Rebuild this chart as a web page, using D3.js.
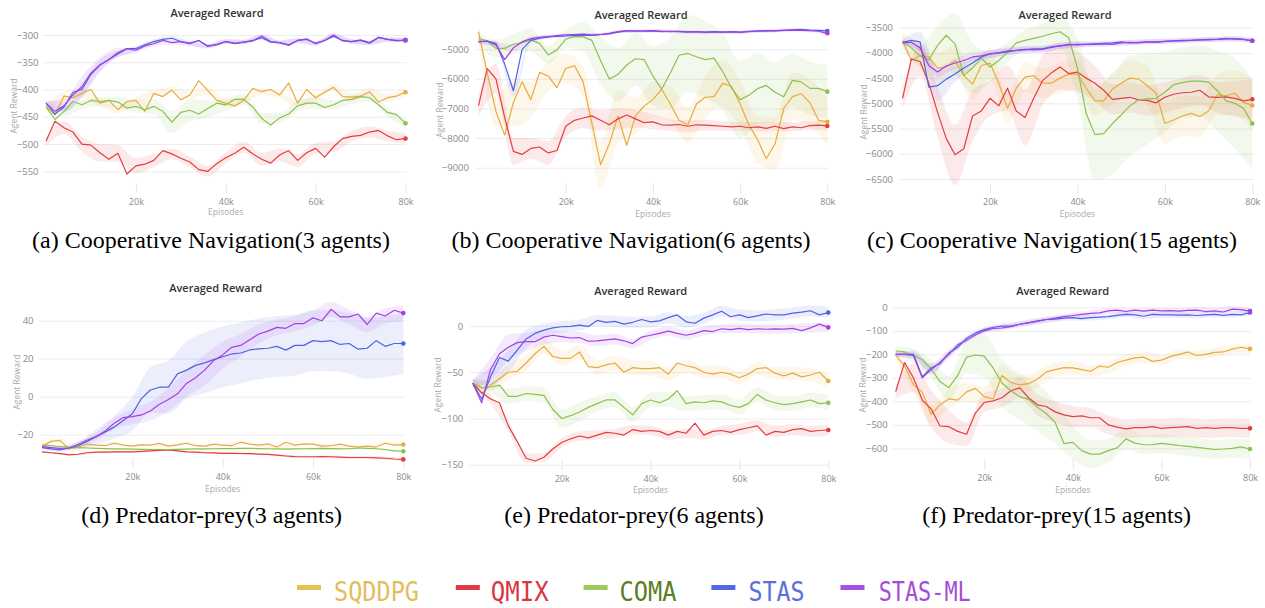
<!DOCTYPE html>
<html>
<head>
<meta charset="utf-8">
<script src="https://cdn.jsdelivr.net/npm/d3@7"></script>
<style>
body { margin: 0; background: #fff; }
</style>
</head>
<body>
<svg id="chart" width="1265" height="608"></svg>
<script>
// episodes sampled every 2k
var episodes = [0,2000,4000,6000,8000,10000,12000,14000,16000,18000,20000,22000,24000,26000,28000,30000,32000,34000,36000,38000,40000,
                42000,44000,46000,48000,50000,52000,54000,56000,58000,60000,62000,64000,66000,68000,70000,72000,74000,76000,78000,80000];
var xTickValues = [20000, 40000, 60000, 80000];
var seriesNames = ["SQDDPG", "QMIX", "COMA", "STAS", "STAS-ML"];

// (a) Cooperative Navigation, 3 agents
var a_sqddpg = [-431,-447,-412,-415,-407,-400,-425,-420,-437,-422,-420,-440,-407,-413,-401,-419,-410,-384,-402,-420,-425,-430,-420,-398,-404,-400,-410,-388,-425,-400,-415,-405,-396,-413,-414,-412,-404,-423,-415,-412,-405];
var a_qmix = [-495,-458,-470,-478,-500,-502,-516,-528,-517,-555,-540,-537,-530,-512,-518,-526,-533,-547,-550,-536,-525,-517,-506,-518,-528,-535,-520,-512,-530,-516,-508,-524,-505,-490,-486,-484,-478,-475,-485,-492,-490];
var a_coma = [-432,-455,-440,-422,-428,-420,-422,-420,-423,-434,-431,-437,-431,-440,-460,-442,-438,-445,-435,-425,-428,-418,-418,-432,-453,-465,-452,-445,-430,-425,-425,-433,-428,-420,-418,-413,-415,-428,-442,-446,-462];
var a_stas = [-425,-445,-432,-405,-400,-372,-355,-345,-335,-325,-325,-318,-312,-308,-306,-312,-315,-310,-320,-318,-312,-315,-313,-310,-305,-313,-314,-318,-310,-308,-315,-310,-302,-310,-312,-310,-315,-305,-308,-310,-310];
var a_stasml = [-425,-440,-430,-410,-395,-370,-355,-345,-332,-325,-328,-320,-316,-310,-314,-312,-316,-310,-321,-317,-312,-316,-313,-311,-302,-312,-314,-319,-310,-307,-316,-310,-300,-311,-312,-309,-314,-304,-308,-311,-309];
var a_sqddpg_sd = [5,8,8,7,6,6,6,6,7,7,7,6,6,6,6,6,6,7,7,7,8];
var a_qmix_sd = [8,12,14,16,15,14,12,10,10,10,10,10,12,12,12,10,10,10,10,10,10];
var a_coma_sd = [6,8,8,8,10,12,14,20,20,16,12,10,10,10,10,10,8,8,8,8,8];
var a_stas_sd = [4,8,12,10,6,5,4,4,4,4,4,4,4,4,4,4,4,4,4,4,4];
var a_stasml_sd = [4,12,20,14,8,5,4,4,4,4,4,4,4,4,4,4,4,4,4,4,4];

// (b) Cooperative Navigation, 6 agents
var b_sqddpg = [-4400,-5800,-7100,-7900,-6800,-6100,-6700,-5780,-5900,-6300,-5650,-5550,-6100,-7500,-8900,-8200,-7250,-8250,-7250,-6920,-6700,-6350,-6850,-7400,-7550,-6850,-6620,-6600,-6150,-6250,-6850,-7550,-8050,-8700,-8200,-7000,-6600,-6500,-6800,-7400,-7450];
var b_qmix = [-6900,-5650,-6000,-7300,-8450,-8550,-8350,-8300,-8500,-8420,-7600,-7400,-7320,-7250,-7400,-7550,-7350,-7220,-7350,-7480,-7450,-7550,-7560,-7540,-7600,-7550,-7560,-7580,-7600,-7620,-7600,-7650,-7620,-7670,-7600,-7680,-7620,-7650,-7580,-7560,-7590];
var b_coma = [-4630,-4710,-4970,-4970,-4830,-4775,-4680,-4800,-5190,-5020,-4660,-4570,-4580,-4700,-5380,-6000,-5850,-5530,-5320,-5350,-5900,-6350,-5800,-5200,-5140,-5250,-5350,-5300,-5750,-6300,-6700,-6550,-6330,-6220,-6450,-6600,-6050,-6100,-6320,-6320,-6430];
var b_stas = [-4740,-4720,-4800,-5500,-6400,-5000,-4700,-4620,-4580,-4560,-4550,-4530,-4520,-4530,-4500,-4480,-4420,-4380,-4380,-4390,-4380,-4390,-4400,-4390,-4410,-4400,-4420,-4400,-4420,-4400,-4420,-4390,-4380,-4370,-4380,-4360,-4340,-4330,-4350,-4360,-4380];
var b_stasml = [-4740,-4730,-4850,-5350,-4950,-4750,-4640,-4600,-4570,-4540,-4510,-4500,-4490,-4520,-4500,-4460,-4400,-4370,-4390,-4380,-4370,-4400,-4390,-4400,-4420,-4400,-4430,-4410,-4420,-4410,-4430,-4400,-4390,-4380,-4370,-4360,-4350,-4360,-4370,-4390,-4460];
var b_sqddpg_sd = [300,500,800,600,500,500,500,800,900,600,600,600,600,700,800,800,800,900,800,800,800];
var b_qmix_sd = [400,500,450,350,400,350,350,350,350,300,250,200,200,180,160,150,150,150,150,150,150];
var b_coma_sd = [200,300,350,400,300,300,500,800,900,900,1000,1200,1300,1300,1300,1300,1200,1000,900,900,900];
var b_stas_sd = [60,100,200,80,60,50,50,50,50,50,50,50,50,50,50,50,50,50,50,50,50];
var b_stasml_sd = [60,100,120,80,60,50,50,50,50,50,50,50,50,50,50,50,50,50,50,50,50];

// (c) Cooperative Navigation, 15 agents
var c_sqddpg = [-3760,-4150,-4050,-4080,-4300,-4280,-4150,-4450,-4620,-4250,-4200,-4600,-5100,-4700,-4480,-4450,-4600,-4600,-4500,-4420,-4420,-4700,-4950,-4950,-4720,-4600,-4500,-4520,-4650,-4800,-5400,-5330,-5250,-5200,-5260,-5150,-4830,-4850,-4800,-4980,-5040];
var c_qmix = [-4900,-4120,-4170,-4600,-5180,-5700,-6020,-5900,-5250,-5150,-4900,-5050,-4700,-5150,-5280,-4900,-4550,-4400,-4280,-4410,-4380,-4500,-4600,-4740,-4920,-4900,-4880,-4930,-4940,-4990,-4880,-4820,-4790,-4780,-4740,-4870,-4880,-4870,-4900,-4950,-4920];
var c_coma = [-3780,-3900,-4060,-4140,-3850,-3650,-3820,-4450,-4300,-4100,-4280,-4150,-3990,-3800,-3750,-3710,-3670,-3620,-3580,-3700,-4300,-5200,-5620,-5600,-5400,-5230,-5050,-4930,-4910,-4900,-4780,-4630,-4590,-4560,-4560,-4580,-4750,-4950,-5000,-5100,-5400];
var c_stas = [-3790,-3750,-3780,-4680,-4650,-4520,-4420,-4300,-4200,-4080,-4020,-4000,-3980,-3950,-3935,-3920,-3920,-3880,-3860,-3840,-3830,-3830,-3820,-3810,-3800,-3780,-3800,-3790,-3780,-3780,-3770,-3760,-3750,-3750,-3740,-3730,-3730,-3720,-3720,-3730,-3760];
var c_stasml = [-3800,-3790,-3900,-4250,-4380,-4260,-4200,-4150,-4080,-4060,-4020,-4000,-3960,-3950,-3930,-3940,-3930,-3890,-3860,-3830,-3840,-3830,-3830,-3820,-3830,-3800,-3790,-3800,-3780,-3790,-3770,-3760,-3760,-3750,-3740,-3740,-3730,-3710,-3720,-3730,-3760];
var c_sqddpg_sd = [150,250,300,300,300,300,300,300,300,300,300,300,300,350,400,400,400,400,400,450,500];
var c_qmix_sd = [200,300,500,600,500,350,450,550,500,450,400,350,300,300,300,300,300,300,300,350,400];
var c_coma_sd = [100,200,400,600,500,300,200,200,250,300,600,900,1000,1000,900,800,700,700,800,900,900];
var c_stas_sd = [50,200,300,150,100,80,70,60,60,60,60,50,50,50,50,50,50,50,50,50,50];
var c_stasml_sd = [50,80,100,100,90,80,70,60,60,60,60,50,50,50,50,50,50,50,50,50,50];

// (d) Predator-prey, 3 agents
var d_sqddpg = [-26,-23.5,-23,-27.5,-26.5,-25,-25.5,-25.8,-24.5,-25.5,-26,-25.2,-25.5,-24.6,-26,-25.4,-24.5,-25.8,-26,-25,-25.5,-25.8,-24,-25,-25.5,-24.8,-26.5,-24,-25.5,-24.8,-25,-26,-25.8,-25,-26,-26.5,-26,-26.5,-24.5,-25.5,-25.2];
var d_qmix = [-29,-29.5,-30,-30.6,-30.3,-29.5,-29.2,-29.2,-29,-29,-29,-28.8,-28.5,-28.2,-28,-28.5,-29,-29.2,-29.5,-29.6,-29.8,-29.8,-29.9,-30,-30.2,-30.4,-30.8,-31.2,-31.5,-31.6,-31.6,-31.5,-31.6,-31.8,-32,-32,-32,-32.2,-32.4,-32.8,-33];
var d_coma = [-25.5,-25.8,-26.2,-26.5,-26.8,-27,-27.2,-27.3,-27.5,-27.5,-27.6,-27.7,-27.8,-27.8,-27.8,-27.7,-27.6,-27.5,-27.5,-27.4,-27.3,-27.3,-27.2,-27.2,-27.3,-27.4,-27.5,-27.6,-27.5,-27.4,-27.3,-27.2,-27.3,-27.5,-27.4,-27,-27.2,-27.4,-27.8,-28.5,-28.7];
var d_stas = [-26.8,-27.5,-28,-27,-25.8,-23.5,-21,-18.5,-16,-12.5,-9,-1,3.5,5,5,12,14,16.5,17.8,19.5,21,22.5,23,24.6,25.2,25.5,26.5,24.5,27,27,29.5,29,29.5,27.5,28,25,25.5,29.5,26.5,28,28];
var d_stasml = [-26.3,-26.8,-27.2,-27,-25,-22.8,-21,-18,-14,-11,-10.5,-9.6,-7.5,-4,-1.5,1.5,7,10,14,19,22,26,27,30,33,34.5,36.5,36,38.5,38.5,41.5,40,46,42,42,43.5,38,44,42.5,45.5,44];
var d_sqddpg_sd = [0.6,1,0.6,0.6,0.6,0.6,0.6,0.6,0.6,0.6,0.6,0.6,0.6,0.6,0.6,0.6,0.6,0.6,0.6,0.6,0.6];
var d_qmix_sd = [0.5,0.5,0.5,0.5,0.5,0.5,0.5,0.5,0.5,0.5,0.6,0.6,0.6,0.7,0.7,0.7,0.8,0.8,0.8,0.8,0.8];
var d_coma_sd = [0.5,0.5,0.5,0.5,0.5,0.5,0.5,0.5,0.5,0.5,0.5,0.5,0.5,0.5,0.5,0.5,0.5,0.5,0.5,0.5,0.5];
var d_stas_sd = [0.8,1,2,4,6,9,12,14,15,16,16,16,16,16,16,16,16,16,16,16,16];
var d_stasml_sd = [0.8,1,1.5,2,3,4,5,6,7,8,7,6,5,4,4,4,4,4,4,4,4];

// (e) Predator-prey, 6 agents
var e_sqddpg = [-62,-73,-64,-57,-50,-49,-40,-30,-22,-33,-35,-35,-28,-44,-45,-42,-40,-50,-45,-46,-46,-45,-52,-40,-43,-45,-50,-52,-50,-52,-56,-52,-46,-45,-51,-54,-51,-55,-53,-50,-59.5];
var e_qmix = [-62,-72,-79,-83,-108,-125,-143,-146,-142,-133,-126,-122,-119,-121,-118,-115,-116,-118,-112,-114,-113,-114,-118,-114,-116,-105,-118,-114,-113,-115,-112,-110,-108,-118,-114,-115,-112,-111,-114,-113,-112.5];
var e_coma = [-62,-67,-66,-64,-76,-76,-73,-74,-75,-90,-100,-97,-93,-88,-84,-80,-80,-88,-96,-84,-80,-83,-79,-70,-84,-82,-83,-81,-82,-86,-88,-84,-74,-80,-83,-85,-84,-82,-80,-84,-83];
var e_stas = [-62,-79,-55,-34,-38,-26,-14,-8,-4.5,-2,-0.8,-0.5,1,-0.5,6,4,5,2,4,7,4.5,5.5,9,12,4.5,3,8.5,12,16,10,12,9,11,13,12,12,14,15,16.5,12,14.5];
var e_stasml = [-62,-83,-47,-30,-23,-18,-17,-17,-12,-10,-11.5,-13,-12.5,-16.5,-16,-15,-14,-16,-19,-12,-10,-8,-5.5,-8,-10,-8,-5,-6,-3,-4,-2.5,-4,-3,-3.5,-3.2,-3.3,-2.5,-5,-2,2,-1.5];
var e_sqddpg_sd = [4,6,8,8,8,8,8,8,8,8,8,7,7,7,7,7,7,7,7,7,7];
var e_qmix_sd = [4,5,6,5,5,5,5,5,5,5,5,5,5,5,5,6,6,6,6,6,6];
var e_coma_sd = [4,6,8,8,8,10,10,8,8,8,8,8,8,8,8,8,8,8,8,8,8];
var e_stas_sd = [4,10,12,10,7,6,6,6,6,6,6,6,6,6,6,6,6,6,6,6,6];
var e_stasml_sd = [4,12,14,10,8,6,6,6,6,5,5,5,5,5,5,5,5,5,5,5,5];

// (f) Predator-prey, 15 agents
var f_sqddpg = [-203,-250,-330,-360,-455,-415,-390,-395,-360,-345,-380,-390,-290,-320,-330,-325,-305,-275,-265,-257,-258,-265,-272,-250,-255,-235,-225,-215,-212,-230,-225,-210,-200,-190,-205,-200,-192,-190,-178,-170,-177];
var f_qmix = [-359,-235,-300,-395,-432,-505,-508,-528,-540,-450,-405,-398,-385,-355,-343,-385,-415,-422,-445,-458,-465,-462,-470,-470,-500,-510,-517,-512,-512,-508,-515,-512,-510,-508,-515,-512,-515,-512,-512,-515,-515];
var f_coma = [-186,-190,-205,-222,-262,-316,-342,-290,-212,-203,-208,-258,-322,-355,-380,-392,-425,-452,-490,-580,-575,-610,-625,-625,-610,-598,-560,-578,-585,-584,-579,-583,-588,-592,-596,-600,-605,-603,-600,-594,-603];
var f_stas = [-200,-200,-200,-295,-258,-240,-195,-170,-132,-110,-95,-85,-80,-80,-72,-66,-58,-52,-50,-46,-44,-48,-44,-42,-40,-34,-30,-32,-38,-30,-32,-32,-33,-32,-35,-32,-30,-34,-30,-32,-22];
var f_stasml = [-200,-200,-205,-300,-265,-235,-200,-160,-140,-118,-100,-90,-88,-82,-72,-65,-60,-52,-46,-40,-35,-30,-26,-24,-15,-12,-18,-12,-16,-12,-15,-14,-16,-13,-12,-18,-15,-20,-8,-10,-16];
var f_sqddpg_sd = [20,30,40,40,40,40,40,40,35,30,30,25,25,25,25,20,20,20,20,20,20];
var f_qmix_sd = [30,60,80,70,50,40,40,45,45,45,45,40,40,40,40,40,40,40,40,40,40];
var f_coma_sd = [20,30,40,50,70,90,100,100,100,90,70,60,50,45,40,40,40,40,40,40,40];
var f_stas_sd = [10,15,20,15,12,12,12,12,12,12,12,12,12,12,12,12,12,12,12,12,12];
var f_stasml_sd = [10,15,20,15,12,12,12,12,12,12,12,12,12,12,12,12,12,12,12,12,12];

// styles
var lineColors = ["#e9ab3c", "#e43d40", "#8cc24e", "#4e63e4", "#a43fe3"];
var legendTextColors = ["#e3bd5c", "#d8373f", "#5b7e22", "#5a6fd9", "#a24ed8"];
var legendMarkColors = ["#e6c057", "#dd3c44", "#9ec95c", "#5068e0", "#a651e0"];

var panels = [
    { caption: "(a) Cooperative Navigation(3 agents)", yTicks: [-300,-350,-400,-450,-500,-550], yPx: [35, 171.3],
      x0: 46, x1: 405.5, labR: 38.5, yLabX: 14, yLabY: 106, titleX: 217, titleY: 17, xLabY: 205, epY: 215, capX: 211, capY: 248,
      lines: [a_sqddpg, a_qmix, a_coma, a_stas, a_stasml], bands: [a_sqddpg_sd, a_qmix_sd, a_coma_sd, a_stas_sd, a_stasml_sd] },
    { caption: "(b) Cooperative Navigation(6 agents)", yTicks: [-5000,-6000,-7000,-8000,-9000], yPx: [49.3, 167.7],
      x0: 478.5, x1: 827.3, labR: 469, yLabX: 440, yLabY: 110, titleX: 641, titleY: 19, xLabY: 205.5, epY: 216.5, capX: 631, capY: 248,
      lines: [b_sqddpg, b_qmix, b_coma, b_stas, b_stasml], bands: [b_sqddpg_sd, b_qmix_sd, b_coma_sd, b_stas_sd, b_stasml_sd] },
    { caption: "(c) Cooperative Navigation(15 agents)", yTicks: [-3500,-4000,-4500,-5000,-5500,-6000,-6500], yPx: [27.7, 179],
      x0: 902.6, x1: 1252.3, labR: 893, yLabX: 864, yLabY: 112, titleX: 1065, titleY: 19, xLabY: 205.5, epY: 217, capX: 1052, capY: 248,
      lines: [c_sqddpg, c_qmix, c_coma, c_stas, c_stasml], bands: [c_sqddpg_sd, c_qmix_sd, c_coma_sd, c_stas_sd, c_stasml_sd] },
    { caption: "(d) Predator-prey(3 agents)", yTicks: [40,20,0,-20], yPx: [320.7, 434.7],
      x0: 42, x1: 403.3, labR: 33.5, yLabX: 16.7, yLabY: 382, titleX: 215.7, titleY: 291.5, xLabY: 480, epY: 492, capX: 211.7, capY: 523,
      lines: [d_sqddpg, d_qmix, d_coma, d_stas, d_stasml], bands: [d_sqddpg_sd, d_qmix_sd, d_coma_sd, d_stas_sd, d_stasml_sd] },
    { caption: "(e) Predator-prey(6 agents)", yTicks: [0,-50,-100,-150], yPx: [326, 464.7],
      x0: 472.8, x1: 828.3, labR: 463.3, yLabX: 438.3, yLabY: 385, titleX: 640.7, titleY: 295, xLabY: 482, epY: 493, capX: 634, capY: 523,
      lines: [e_sqddpg, e_qmix, e_coma, e_stas, e_stasml], bands: [e_sqddpg_sd, e_qmix_sd, e_coma_sd, e_stas_sd, e_stasml_sd] },
    { caption: "(f) Predator-prey(15 agents)", yTicks: [0,-100,-200,-300,-400,-500,-600], yPx: [307.3, 448.3],
      x0: 895.7, x1: 1250, labR: 887.7, yLabX: 862.7, yLabY: 385, titleX: 1062.7, titleY: 295, xLabY: 481.5, epY: 493, capX: 1056.7, capY: 523,
      lines: [f_sqddpg, f_qmix, f_coma, f_stas, f_stasml], bands: [f_sqddpg_sd, f_qmix_sd, f_coma_sd, f_stas_sd, f_stasml_sd] }
];

var svg = d3.select("#chart");
var axisFont = "'Open Sans', 'DejaVu Sans', sans-serif";

panels.forEach(function(p) {
    var x = d3.scaleLinear().domain([0, 80000]).range([p.x0, p.x1]);
    var y = d3.scaleLinear().domain([p.yTicks[0], p.yTicks[p.yTicks.length - 1]]).range(p.yPx);
    var g = svg.append("g");
    var gridLeft = p.x0 - 3;

    // y axis with grid lines
    var yAxis = g.append("g")
        .attr("transform", "translate(" + gridLeft + ",0)")
        .call(d3.axisLeft(y).tickValues(p.yTicks)
            .tickFormat(d3.format("d"))
            .tickSize(-(p.x1 + 1 - gridLeft))
            .tickPadding(gridLeft - p.labR));
    yAxis.select(".domain").remove();
    yAxis.selectAll("line").attr("stroke", "#ededed");
    yAxis.selectAll("text").attr("fill", "#8a8a8a").style("font-family", axisFont).style("font-size", "9.5px");

    // x axis
    var tickTop = p.xLabY - 22;
    var xAxis = g.append("g")
        .attr("transform", "translate(0," + tickTop + ")")
        .call(d3.axisBottom(x).tickValues(xTickValues)
            .tickFormat(function(d) { return (d / 1000) + "k"; })
            .tickSize(10).tickPadding(p.xLabY - tickTop - 10 - 6.4));
    xAxis.select(".domain").remove();
    xAxis.selectAll("line").attr("stroke", "#e6e6e6");
    xAxis.selectAll("text").attr("fill", "#8a8a8a").style("font-family", axisFont).style("font-size", "9px");

    // bands
    p.bands.forEach(function(sd, k) {
        var vals = p.lines[k];
        var pts = sd.map(function(w, j) { return { e: episodes[j * 2], v: vals[j * 2], w: w }; });
        g.append("path")
            .datum(pts)
            .attr("fill", lineColors[k])
            .attr("fill-opacity", 0.11)
            .attr("d", d3.area()
                .curve(d3.curveMonotoneX)
                .x(function(d) { return x(d.e); })
                .y0(function(d) { return y(d.v - d.w); })
                .y1(function(d) { return y(d.v + d.w); }));
    });

    // lines
    p.lines.forEach(function(vals, k) {
        g.append("path")
            .datum(vals)
            .attr("fill", "none")
            .attr("stroke", lineColors[k])
            .attr("stroke-width", 1.2)
            .attr("stroke-linejoin", "round")
            .attr("d", d3.line()
                .x(function(d, i) { return x(episodes[i]); })
                .y(function(d) { return y(d); }));
        g.append("circle")
            .attr("cx", x(episodes[vals.length - 1]))
            .attr("cy", y(vals[vals.length - 1]))
            .attr("r", 2.3)
            .attr("fill", lineColors[k]);
    });

    // titles
    g.append("text").attr("x", p.titleX).attr("y", p.titleY)
        .attr("text-anchor", "middle").attr("fill", "#333")
        .style("font-family", axisFont).style("font-size", "11px").style("font-weight", 600)
        .text("Averaged Reward");
    g.append("text").attr("x", (p.x0 + p.x1) / 2).attr("y", p.epY)
        .attr("text-anchor", "middle").attr("fill", "#aaa")
        .style("font-family", axisFont).style("font-size", "8.5px")
        .text("Episodes");
    g.append("text")
        .attr("transform", "translate(" + p.yLabX + "," + p.yLabY + ") rotate(-90)")
        .attr("text-anchor", "middle").attr("dy", "0.35em").attr("fill", "#aaa")
        .style("font-family", axisFont).style("font-size", "8.5px")
        .text("Agent Reward");
    g.append("text").attr("x", p.capX).attr("y", p.capY)
        .attr("text-anchor", "middle").attr("fill", "#000")
        .style("font-family", "'Liberation Serif', 'Times New Roman', serif").style("font-size", "24px")
        .text(p.caption);
});

// legend
var legendX = [297, 455.8, 583.6, 711.4, 840.5];
var legendTextX = [334, 490.8, 619.5, 748.6, 878.7];
var legendTextW = [85, 58, 57, 56, 92];
var legend = svg.append("g");
seriesNames.forEach(function(name, k) {
    legend.append("rect")
        .attr("x", legendX[k]).attr("y", 585).attr("width", 24).attr("height", 5)
        .attr("fill", legendMarkColors[k]);
    legend.append("text")
        .attr("x", legendTextX[k]).attr("y", 601)
        .attr("fill", legendTextColors[k])
        .attr("textLength", legendTextW[k]).attr("lengthAdjust", "spacingAndGlyphs")
        .style("font-family", "'DejaVu Sans Mono', monospace").style("font-size", "27px")
        .text(name);
});
</script>
</body>
</html>
